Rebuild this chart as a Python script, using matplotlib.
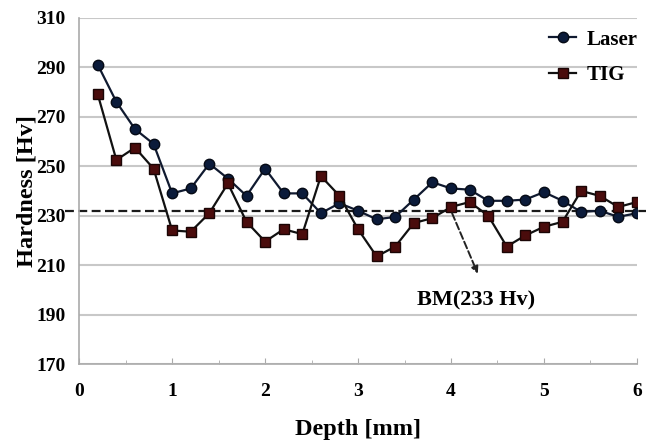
import matplotlib.pyplot as plt
from matplotlib.ticker import MultipleLocator

plt.rcParams['font.family'] = ['Liberation Serif', 'DejaVu Serif']
plt.rcParams['font.weight'] = 'bold'

depth = [0.2, 0.4, 0.6, 0.8, 1.0, 1.2, 1.4, 1.6, 1.8, 2.0,
         2.2, 2.4, 2.6, 2.8, 3.0, 3.2, 3.4, 3.6, 3.8, 4.0,
         4.2, 4.4, 4.6, 4.8, 5.0, 5.2, 5.4, 5.6, 5.8, 6.0]
laser = [291, 276, 265, 259, 239, 241, 251, 245, 238, 249,
         239, 239, 231, 235, 232, 228.5, 229.5, 236.5, 243.5, 241,
         240.5, 236, 236, 236.5, 239.5, 236, 231.5, 232, 229.5, 231]
tig = [279, 252.5, 257.5, 249, 224, 223.5, 231, 243, 227.5, 219.5,
       224.5, 222.5, 246, 238, 224.5, 213.5, 217.5, 227, 229, 233.5,
       235.5, 230, 217.5, 222, 225.5, 227.5, 240, 238, 233.5, 235.5]
bm_x = [-0.15, 6.1]
bm_y = [232, 232]

fig = plt.figure(figsize=(6.6, 4.45), dpi=100)
ax = fig.add_axes([0.12, 0.182, 0.845, 0.778])

# linea base BM
ax.plot(bm_x, bm_y, '--', color='#1a1a1a', lw=1.6, dashes=(4, 2), clip_on=False, zorder=2)
ax.plot(depth, laser, '-o', color='#101a30', mfc='#0b1b3a', mec='#050a15',
        ms=7.5, lw=1.6, label='Laser', zorder=3)
ax.plot(depth, tig, '-s', color='#111111', mfc='#4a0c0c', mec='#1a0505',
        ms=7.5, lw=1.6, label='TIG', zorder=3)

ax.annotate('', xy=(4.3, 205.5), xytext=(4.0, 232),
            arrowprops=dict(arrowstyle='-|>', color='#222222', lw=1.4, ls='--',
                            mutation_scale=10))
ax.text(4.27, 195.5, 'BM(233 Hv)', ha='center', va='center', fontsize=16, fontweight='bold')

ax.set_xlim(0, 6)
ax.set_ylim(170, 310)
ax.set_yticks(range(170, 311, 20))
ax.xaxis.set_major_locator(MultipleLocator(1))
ax.xaxis.set_minor_locator(MultipleLocator(0.5))
ax.grid(axis='y', color='#c8c8c8', lw=1.5)
ax.set_axisbelow(True)
for s in ['top', 'right']:
    ax.spines[s].set_visible(False)
for s in ['left', 'bottom']:
    ax.spines[s].set_color('#aaaaaa')
    ax.spines[s].set_linewidth(1.2)
ax.tick_params(axis='both', which='both', color='#aaaaaa', labelsize=14)
ax.tick_params(axis='x', which='major', direction='in', length=4, pad=14)
ax.tick_params(axis='x', which='minor', direction='in', length=3)
ax.tick_params(axis='y', length=0, pad=10)
for lab in ax.get_xticklabels() + ax.get_yticklabels():
    lab.set_fontweight('bold')

ax.set_xlabel('Depth [mm]', fontsize=17.5, fontweight='bold', labelpad=13)
ax.set_ylabel('Hardness [Hv]', fontsize=17.5, fontweight='bold', labelpad=-1)

ax.legend(loc='upper right', bbox_to_anchor=(1.035, 1.02), frameon=False,
          handlelength=1.3, handletextpad=0.5, labelspacing=0.75,
          prop={'weight': 'bold', 'size': 15})

plt.savefig('out.png', dpi=100)
